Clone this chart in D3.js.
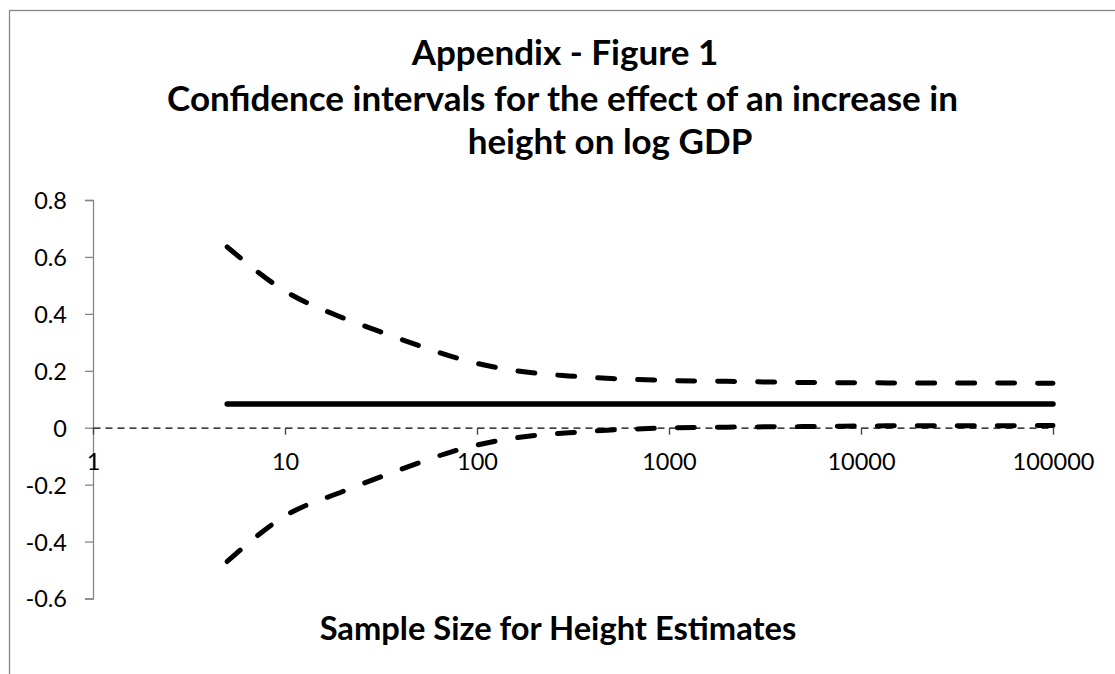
<!DOCTYPE html>
<html><head><meta charset="utf-8">
<script src="https://cdn.jsdelivr.net/npm/d3@7"></script>
<style>
body{margin:0;background:#fff;}
svg{display:block;font-family:Lato,"Liberation Sans",sans-serif;}
</style>
</head><body>
<svg id="c" width="1115" height="674"></svg>
<script>
// ---- data ----
const sampleSizes   = [5, 10, 20, 30, 50, 75, 100, 200, 300, 500, 1000, 2000, 5000, 10000, 20000, 50000, 100000];
const upperBound    = [0.635, 0.48, 0.386, 0.342, 0.288, 0.249, 0.226, 0.192, 0.182, 0.173, 0.166, 0.163, 0.159, 0.158, 0.157, 0.157, 0.156];
const lowerBound    = [-0.470, -0.31, -0.224, -0.178, -0.123, -0.083, -0.061, -0.027, -0.018, -0.008, -0.001, 0.002, 0.004, 0.006, 0.007, 0.007, 0.008];
const pointEstimate = [0.083, 0.083, 0.083, 0.083, 0.083, 0.083, 0.083, 0.083, 0.083, 0.083, 0.083, 0.083, 0.083, 0.083, 0.083, 0.083, 0.083];
const xTicks = [1, 10, 100, 1000, 10000, 100000];
const yTicks = [0.8, 0.6, 0.4, 0.2, 0, -0.2, -0.4, -0.6];
const titleLines = ["Appendix - Figure 1", "Confidence intervals for the effect of an increase in", "height on log GDP"];
const xAxisTitle = "Sample Size for Height Estimates";

// ---- layout ----
const svg = d3.select("#c");
const x = d3.scaleLog().domain([1, 100000]).range([93, 1053]);
const y = d3.scaleLinear().domain([-0.6, 0.8]).range([598.5, 200]);

// chart border
svg.append("rect").attr("x", 9.5).attr("y", 10.5).attr("width", 1120).attr("height", 680)
  .attr("fill", "none").attr("stroke", "#878787").attr("stroke-width", 1.3);

// title
const titleCx = [565, 562.5, 610];
const titleBase = [65, 111, 154];
const tg = svg.append("g");
titleLines.forEach((t, i) => {
  tg.append("text").attr("x", titleCx[i]).attr("y", titleBase[i]).attr("text-anchor", "middle")
    .attr("font-weight", "bold").attr("font-size", 30).attr("fill", "#000").text(t);
});
const longest = tg.selectAll("text").nodes()[1];
const fs = 30 * 791 / longest.getComputedTextLength();
tg.selectAll("text").attr("font-size", fs);

// y axis
const yAxis = d3.axisLeft(y).tickValues(yTicks).tickSize(8).tickPadding(18)
  .tickFormat(d => d === 0 ? "0" : String(d));
const gy = svg.append("g").attr("transform", "translate(93,0)").call(yAxis);
gy.select(".domain").attr("stroke", "#868686").attr("stroke-width", 1.3);
gy.selectAll(".tick line").attr("stroke", "#868686").attr("stroke-width", 1.3);
gy.selectAll(".tick text").attr("font-size", 23.5).attr("font-family", "Lato").attr("fill", "#000")
  .attr("dy", "0.36em");

// x axis (crosses at 0, dashed black)
const xAxis = d3.axisBottom(x).tickValues(xTicks).tickSize(7).tickSizeOuter(0)
  .tickFormat(d3.format("d"));
const gx = svg.append("g").attr("transform", `translate(0,${y(0)})`).call(xAxis);
gx.select(".domain").attr("stroke", "#000").attr("stroke-width", 1.3).attr("stroke-dasharray", "7,5");
gx.selectAll(".tick line").attr("stroke", "#404040").attr("stroke-width", 1.3);
gx.selectAll(".tick text").attr("font-size", 23.5).attr("font-family", "Lato").attr("fill", "#000")
  .attr("y", 42).attr("dy", 0);

// series
const line = d3.line().x(d => x(d[0])).y(d => y(d[1])).curve(d3.curveMonotoneX);
const mk = arr => sampleSizes.map((n, i) => [n, arr[i]]);
svg.append("path").attr("d", line(mk(pointEstimate))).attr("fill", "none")
  .attr("stroke", "#000").attr("stroke-width", 5.5).attr("stroke-linecap", "round");
[upperBound, lowerBound].forEach(arr => {
  svg.append("path").attr("d", line(mk(arr))).attr("fill", "none")
    .attr("stroke", "#000").attr("stroke-width", 5).attr("stroke-linecap", "round")
    .attr("stroke-dasharray", "17,23");
});

// x axis title
const xt = svg.append("text").attr("x", 558).attr("y", 640).attr("text-anchor", "middle")
  .attr("font-weight", "bold").attr("font-size", 30).attr("fill", "#000").text(xAxisTitle);
xt.attr("font-size", 30 * 477 / xt.node().getComputedTextLength());
</script>
</body></html>
